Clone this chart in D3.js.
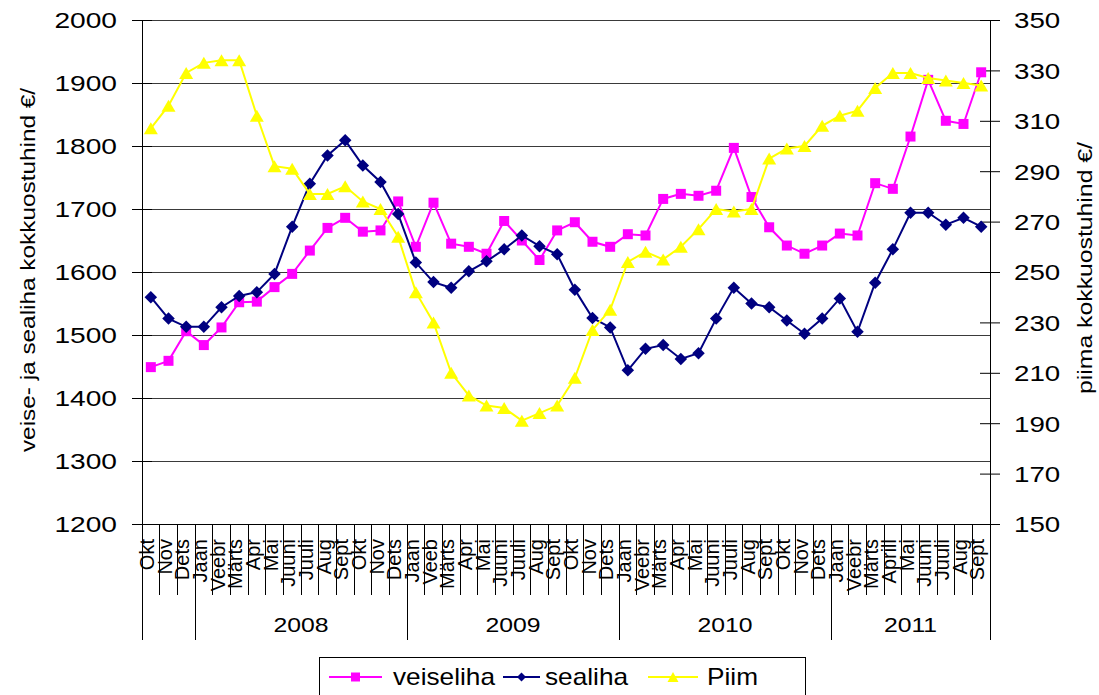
<!DOCTYPE html>
<html><head><meta charset="utf-8">
<script src="https://cdn.jsdelivr.net/npm/d3@7"></script>
<style>body{margin:0;background:#fff} svg{display:block}</style>
</head><body>
<svg id="c" width="1099" height="695"></svg>
<script>
const months = ["Okt","Nov","Dets","Jaan","Veebr","Märts","Apr","Mai","Juuni","Juuli","Aug","Sept","Okt","Nov","Dets",
  "Jaan","Veeb","Märts","Apr","Mai","Juuni","Juuli","Aug","Sept","Okt","Nov","Dets",
  "Jaan","Veebr","Märts","Apr","Mai","Juuni","Juuli","Aug","Sept","Okt","Nov","Dets",
  "Jaan","Veebr","Märts","Aprill","Mai","Juuni","Juuli","Aug","Sept"];
const yearLabels = ["2008","2009","2010","2011"];
const yearStartIdx = [3,15,27,39];
const yearEndIdx = [15,27,39,48];
const veiseliha = [1449,1459,1506,1484,1512,1552,1553,1576,1597,1634,1670,1686,1664,1666,1712,
  1640,1710,1645,1640,1629,1681,1650,1619,1666,1679,1648,1640,
  1660,1658,1716,1724,1721,1729,1797,1719,1671,1642,1629,1642,
  1661,1658,1741,1732,1815,1905,1840,1835,1917];
const sealiha = [1560,1526,1513,1513,1544,1562,1568,1597,1672,1740,1785,1809,1769,1743,1692,
  1615,1584,1575,1601,1617,1636,1658,1641,1628,1572,1527,1512,
  1444,1478,1484,1462,1471,1526,1575,1550,1544,1523,1502,1526,
  1558,1505,1583,1636,1694,1694,1675,1686,1672];
const piim = [307,316,329,333,334,334,312,292,291,281,281,284,278,275,264,
  242,230,210,201,197,196,191,194,197,208,227,235,
  254,258,255,260,267,275,274,275,295,299,300,308,
  312,314,323,329,329,327,326,325,324];
const leftTicks = [1200,1300,1400,1500,1600,1700,1800,1900,2000];
const rightTicks = [150,170,190,210,230,250,270,290,310,330,350];
const seriesNames = ["veiseliha","sealiha","Piim"];
const leftTitle = "veise- ja sealiha kokkuostuhind €/";
const rightTitle = "piima kokkuostuhind €/";

const FONT = '"Liberation Sans", Arial, sans-serif';
const svg = d3.select("#c").attr("font-family", FONT);
const L = 142, R = 990, T = 20, B = 524;
const x = d3.scaleBand().domain(d3.range(months.length)).range([L, R]);
const yL = d3.scaleLinear().domain([1200, 2000]).range([B, T]);
const yR = d3.scaleLinear().domain([150, 350]).range([B, T]);
const cx = i => x(i) + x.bandwidth() / 2;

// gridlines
svg.append("g").attr("shape-rendering", "crispEdges").selectAll("line").data(leftTicks).join("line")
  .attr("x1", L).attr("x2", R).attr("y1", d => yL(d) + 0.5).attr("y2", d => yL(d) + 0.5)
  .attr("stroke", "#3a3a3a").attr("stroke-width", 1);

// left axis
const gL = svg.append("g").attr("transform", `translate(${L},0)`)
  .call(d3.axisLeft(yL).tickValues(leftTicks).tickSize(10).tickSizeOuter(0).tickFormat(d3.format("d")));
gL.attr("font-family", FONT).attr("font-size", 22);
gL.selectAll(".tick line").attr("x1", 10).attr("stroke", "#000");
gL.select(".domain").attr("stroke", "#000");
gL.selectAll(".tick text").attr("fill", "#000").attr("x", -25 / 1.28).attr("dy", "0.36em")
  .attr("transform", "scale(1.28,1)");

// right axis
const gR = svg.append("g").attr("transform", `translate(${R},0)`)
  .call(d3.axisRight(yR).tickValues(rightTicks).tickSize(10).tickSizeOuter(0).tickFormat(d3.format("d")));
gR.attr("font-family", FONT).attr("font-size", 22);
gR.selectAll(".tick line").attr("x1", -10).attr("stroke", "#000");
gR.select(".domain").attr("stroke", "#000");
gR.selectAll(".tick text").attr("fill", "#000").attr("x", 24 / 1.26).attr("dy", "0.36em")
  .attr("transform", "scale(1.26,1)");

// bottom axis
const gB = svg.append("g").attr("transform", `translate(0,${B})`)
  .call(d3.axisBottom(x).tickSize(0).tickSizeOuter(0).tickFormat(i => months[i]));
gB.attr("font-family", FONT).attr("font-size", 20);
gB.select(".domain").attr("stroke", "#000");
gB.selectAll(".tick text").attr("fill", "#000").attr("text-anchor", "end")
  .attr("x", -15).attr("y", 3).attr("dy", null).attr("transform", "rotate(-90)");

// category separators
const bounds = d3.range(months.length + 1);
const yearBounds = new Set([0, ...yearStartIdx, months.length]);
svg.append("g").attr("shape-rendering", "crispEdges").selectAll("line").data(bounds).join("line")
  .attr("x1", i => (i < months.length ? x(i) : R)).attr("x2", i => (i < months.length ? x(i) : R))
  .attr("y1", B).attr("y2", i => yearBounds.has(i) ? 640 : 595)
  .attr("stroke", "#000").attr("stroke-width", 1);

// year labels
svg.append("g").selectAll("g").data(yearLabels).join("g")
  .attr("transform", (d, k) => {
    const mid = (x(yearStartIdx[k]) + x(yearEndIdx[k] - 1) + x.bandwidth()) / 2;
    return `translate(${mid},632) scale(1.18,1)`;
  })
  .append("text").attr("text-anchor", "middle").attr("font-size", 21).attr("fill", "#000").text(d => d);

// axis titles
svg.append("text").attr("transform", "translate(35,270) rotate(-90) scale(1.16,1)")
  .attr("text-anchor", "middle").attr("font-size", 21).attr("fill", "#000").text(leftTitle);
svg.append("text").attr("transform", "translate(1092,268) rotate(-90) scale(1.18,1)")
  .attr("text-anchor", "middle").attr("font-size", 21).attr("fill", "#000").text(rightTitle);

// marker shapes
const sq = s => `M${-s/2},${-s/2}h${s}v${s}h${-s}Z`;
const dia = s => `M0,${-s/2}L${s/2},0L0,${s/2}L${-s/2},0Z`;
const tri = (w, h) => `M0,${-h/2}L${w/2},${h/2}L${-w/2},${h/2}Z`;

const series = [
  {name: seriesNames[0], data: veiseliha, y: yL, color: "#FF00FF", marker: sq(10), lm: sq(9)},
  {name: seriesNames[1], data: sealiha, y: yL, color: "#000080", marker: dia(12.5), lm: dia(9)},
  {name: seriesNames[2], data: piim, y: yR, color: "#FFFF00", marker: tri(14, 12), lm: tri(11, 10)}
];

series.forEach(s => {
  const g = svg.append("g");
  g.append("path").datum(s.data)
    .attr("d", d3.line().x((d, i) => cx(i)).y(d => s.y(d)))
    .attr("fill", "none").attr("stroke", s.color).attr("stroke-width", 2);
  g.selectAll("path.m").data(s.data).join("path").attr("class", "m")
    .attr("transform", (d, i) => `translate(${cx(i)},${s.y(d)})`)
    .attr("d", s.marker).attr("fill", s.color);
});

// legend
const lg = svg.append("g");
lg.append("rect").attr("x", 319.5).attr("y", 657.5).attr("width", 486).attr("height", 50)
  .attr("fill", "#fff").attr("stroke", "#000").attr("stroke-width", 1);
const legLine = [[329, 382], [503, 540], [648, 698]];
const legText = [393, 545, 707];
series.forEach((s, k) => {
  lg.append("line").attr("x1", legLine[k][0]).attr("x2", legLine[k][1]).attr("y1", 677).attr("y2", 677)
    .attr("stroke", s.color).attr("stroke-width", 2);
  lg.append("path").attr("transform", `translate(${(legLine[k][0] + legLine[k][1]) / 2},677)`)
    .attr("d", s.lm).attr("fill", s.color);
  lg.append("g").attr("transform", `translate(${legText[k]},685) scale(1.14,1)`)
    .append("text").attr("font-size", 23).attr("fill", "#000").text(s.name);
});
</script>
</body></html>
